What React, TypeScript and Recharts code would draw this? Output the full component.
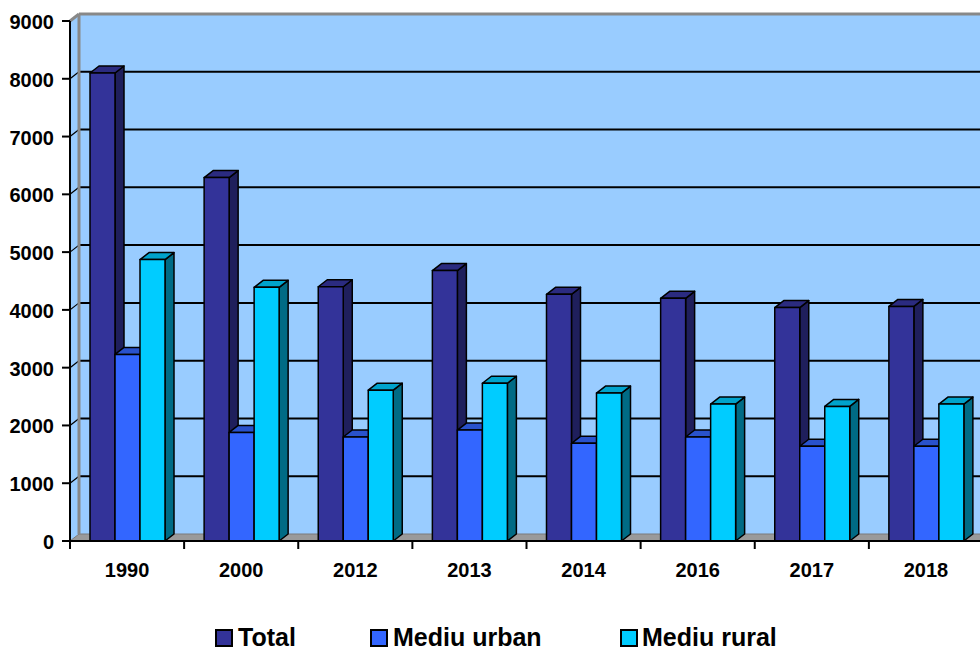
import { BarChart, Bar, XAxis, YAxis, ReferenceArea } from "recharts"

const years = ["1990", "2000", "2012", "2013", "2014", "2016", "2017", "2018"]
const total = [8100, 6290, 4400, 4680, 4270, 4200, 4040, 4060]
const urban = [3230, 1880, 1800, 1920, 1690, 1800, 1640, 1640]
const rural = [4870, 4390, 2610, 2730, 2560, 2370, 2330, 2370]
const yTicks = [0, 1000, 2000, 3000, 4000, 5000, 6000, 7000, 8000, 9000]
const seriesNames = ["Total", "Mediu urban", "Mediu rural"]

const data = years.map((year, i) => ({
  year,
  total: total[i],
  urban: urban[i],
  rural: rural[i],
}))

const DX = 9
const DY = 7
const FONT = "Arial, 'Liberation Sans', sans-serif"
const CHART_W = 1000
const CHART_H = 653
const PLOT_LEFT = 70
const PLOT_RIGHT = 17
const X_AXIS_H = 112
const AXIS_Y = CHART_H - X_AXIS_H
const BAND = (CHART_W - PLOT_LEFT - PLOT_RIGHT) / years.length
const Y_MAX = 9000

const makeBar = (front: string, top: string, side: string) => (props: any) => {
  const { x, y, width, height } = props
  if (!height) return <g />
  const r = x + width
  const b = y + height
  return (
    <g stroke="#000" strokeWidth={1.5} strokeLinejoin="round">
      <polygon points={`${r},${y} ${r + DX},${y - DY} ${r + DX},${b - DY} ${r},${b}`} fill={side} />
      <polygon points={`${x},${y} ${x + DX},${y - DY} ${r + DX},${y - DY} ${r},${y}`} fill={top} />
      <rect x={x} y={y} width={width} height={height} fill={front} />
    </g>
  )
}

// back wall, side wall, floor and the gridlines drawn on the back wall
const Walls = (props: any) => {
  const { x, y, width, height } = props
  const b = y + height
  const right = x + width + 60
  const inner = yTicks.slice(1, -1)
  return (
    <g>
      <polygon
        points={`${x},${y} ${x + DX},${y - DY} ${x + DX},${b - DY} ${x},${b}`}
        fill="#99CCFF"
      />
      <rect x={x + DX} y={y - DY} width={width + 60} height={height} fill="#99CCFF" />
      {inner.map((v) => {
        const gy = y + height * (1 - v / Y_MAX)
        return (
          <g key={v} stroke="#000">
            <line x1={x} y1={gy} x2={x + DX} y2={gy - DY} strokeWidth={1.2} />
            <line x1={x + DX} y1={gy - DY} x2={right} y2={gy - DY} strokeWidth={2} />
          </g>
        )
      })}
      <polygon
        points={`${x},${b} ${x + DX},${b - DY} ${right + DX},${b - DY} ${right},${b}`}
        fill="#9A9A9A"
        stroke="#7A7A7A"
        strokeWidth={1}
      />
      <line x1={x} y1={y} x2={x + DX} y2={y - DY} stroke="#888" strokeWidth={3} />
      <line x1={x + DX} y1={y - DY} x2={right} y2={y - DY} stroke="#888" strokeWidth={3} />
      <line x1={x + DX} y1={y - DY} x2={x + DX} y2={b - DY} stroke="#888" strokeWidth={3} />
    </g>
  )
}

const YTick = (props: any) => {
  const { y, payload } = props
  return (
    <g>
      <line x1={PLOT_LEFT - 8} y1={y} x2={PLOT_LEFT} y2={y} stroke="#000" strokeWidth={2} />
      <text x={PLOT_LEFT - 16} y={y + 1} textAnchor="end" dominantBaseline="central" fontFamily={FONT} fontWeight="bold" fontSize={20} fill="#000">
        {payload.value}
      </text>
    </g>
  )
}

const XTick = (props: any) => {
  const { x, payload, index } = props
  const left = x - BAND / 2
  return (
    <g>
      <line x1={left} y1={AXIS_Y} x2={left} y2={AXIS_Y + 8} stroke="#000" strokeWidth={2} />
      {index === years.length - 1 && (
        <line x1={x + BAND / 2} y1={AXIS_Y} x2={x + BAND / 2} y2={AXIS_Y + 8} stroke="#000" strokeWidth={2} />
      )}
      <text x={x} y={AXIS_Y + 36} textAnchor="middle" fontFamily={FONT} fontWeight="bold" fontSize={20} fill="#000">
        {payload.value}
      </text>
    </g>
  )
}

const legendItems = [
  { name: seriesNames[0], color: "#333399", box: 215, text: 238 },
  { name: seriesNames[1], color: "#3366FF", box: 370, text: 393 },
  { name: seriesNames[2], color: "#00CCFF", box: 620, text: 642 },
]

export default function App() {
  return (
    <div style={{ position: "absolute", left: 0, top: 0, width: 980, height: CHART_H, overflow: "hidden", background: "#fff" }}>
      <BarChart
        width={CHART_W}
        height={CHART_H}
        data={data}
        margin={{ top: 21, right: PLOT_RIGHT, bottom: 0, left: 0 }}
        barGap={0}
      >
        <ReferenceArea y1={0} y2={Y_MAX} ifOverflow="visible" shape={Walls} />
        <XAxis
          dataKey="year"
          height={X_AXIS_H}
          axisLine={{ stroke: "#000", strokeWidth: 2 }}
          tickLine={false}
          tick={XTick}
          interval={0}
        />
        <YAxis
          width={PLOT_LEFT}
          domain={[0, Y_MAX]}
          ticks={yTicks}
          axisLine={{ stroke: "#000", strokeWidth: 2 }}
          tickLine={false}
          tick={YTick}
          interval={0}
        />
        <Bar dataKey="total" name={seriesNames[0]} barSize={25} isAnimationActive={false} shape={makeBar("#333399", "#2B2B80", "#1F1F5C")} />
        <Bar dataKey="urban" name={seriesNames[1]} barSize={25} isAnimationActive={false} shape={makeBar("#3366FF", "#2952CC", "#1F3D99")} />
        <Bar dataKey="rural" name={seriesNames[2]} barSize={25} isAnimationActive={false} shape={makeBar("#00CCFF", "#00A3CC", "#006B85")} />
      </BarChart>
      <svg width={980} height={43} style={{ position: "absolute", left: 0, top: 610, overflow: "visible" }}>
        {legendItems.map((it) => (
          <g key={it.name}>
            <rect x={it.box + 1} y={20} width={16} height={16} fill={it.color} stroke="#000" strokeWidth={2} />
            <text x={it.text} y={36} fontFamily={FONT} fontWeight="bold" fontSize={25} fill="#000">
              {it.name}
            </text>
          </g>
        ))}
      </svg>
    </div>
  )
}
